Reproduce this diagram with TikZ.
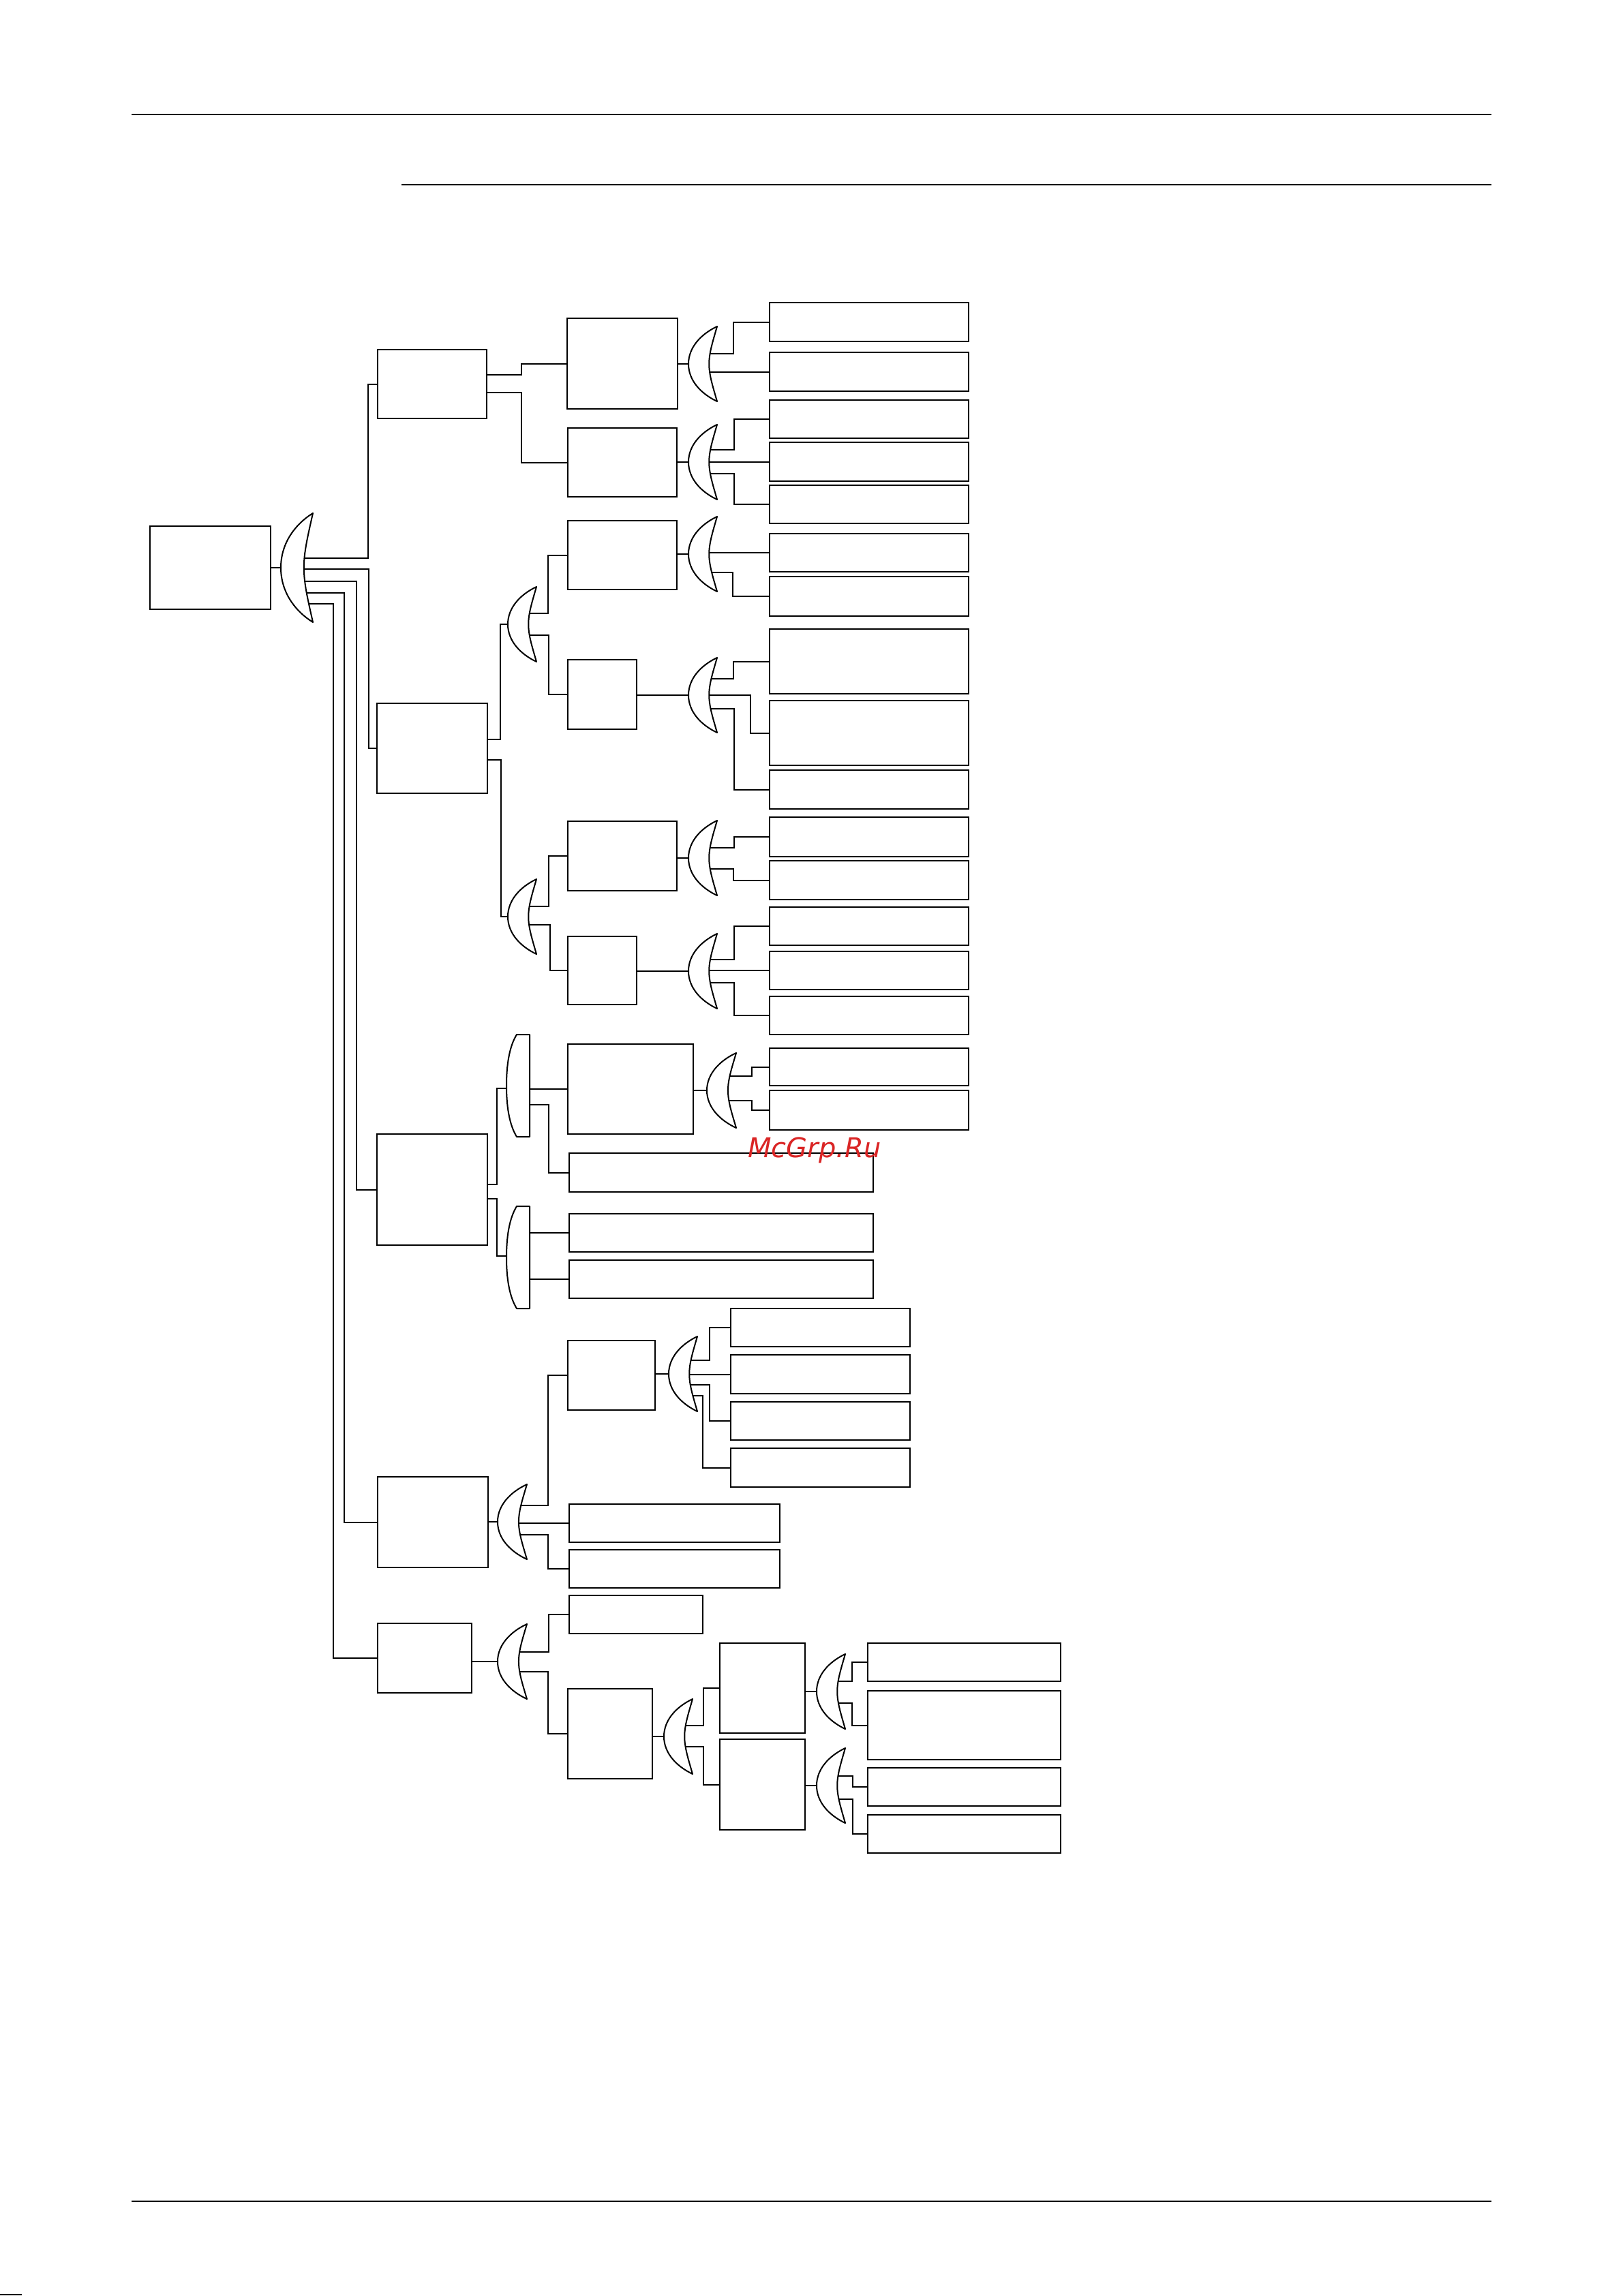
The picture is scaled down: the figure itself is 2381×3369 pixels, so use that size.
\documentclass[tikz,border=0pt]{standalone}
\usepackage{fontspec}
\newfontfamily\wmfont{DejaVu Sans}
\usetikzlibrary{calc}
\definecolor{wmred}{RGB}{218,37,37}
\tikzset{
  bx/.style={draw, line width=2.4pt, inner sep=0pt, anchor=north west, fill=white},
  cn/.style={line width=2.2pt},
  gt/.style={draw, fill=white, line width=2pt, line join=round},
  pl/.style={line width=2pt}
}
\newcommand\mkbox[5]{\node[bx, minimum width={(#4-#2)*1pt}, minimum height={(#5-#3)*1pt}] (#1) at (#2,#3) {};}
% crescent gate: left x, centre y, half height, width
\newcommand\crg[4]{%
\draw[gt] ({#1+#4},{#2-#3}) .. controls ({#1+0.45*#4},{#2-0.8*#3}) and ({#1},{#2-0.45*#3}) .. ({#1},{#2})
 .. controls ({#1},{#2+0.45*#3}) and ({#1+0.45*#4},{#2+0.8*#3}) .. ({#1+#4},{#2+#3})
 .. controls ({#1+0.85*#4},{#2+0.6*#3}) and ({#1+0.72*#4},{#2+0.3*#3}) .. ({#1+0.72*#4},{#2})
 .. controls ({#1+0.72*#4},{#2-0.3*#3}) and ({#1+0.85*#4},{#2-0.6*#3}) .. cycle;}
% half-round gate: left x, top y, bottom y, right x
\newcommand\dg[4]{%
\draw[gt] ({#4},{#2}) -- ({#1+15},{#2}) .. controls ({#1+4},{#2+0.12*(#3-#2)}) and ({#1},{#2+0.3*(#3-#2)}) .. ({#1},{(#2+#3)/2})
 .. controls ({#1},{#2+0.7*(#3-#2)}) and ({#1+4},{#2+0.88*(#3-#2)}) .. ({#1+15},{#3}) -- ({#4},{#3}) -- cycle;}
\begin{document}
\begin{tikzpicture}[x=1pt,y=-1pt]
\fill[white] (0,0) rectangle (2381,3369);
\useasboundingbox (0,0) rectangle (2381,3369);
% page rules
\draw[pl] (193,168) -- (2188,168);
\draw[pl] (589,271) -- (2188,271);
\draw[pl] (193,3230) -- (2188,3230);
\draw[line width=2pt] (0,3367) -- (32,3367);

% ---------- boxes ----------
\mkbox{root}{219}{771}{396}{893}
\mkbox{A}{553}{512}{713}{613}
\mkbox{B}{552}{1031}{714}{1163}
\mkbox{C}{552}{1663}{714}{1826}
\mkbox{D}{553}{2166}{715}{2299}
\mkbox{E}{553}{2381}{691}{2483}
\mkbox{A1}{831}{466}{993}{599}
\mkbox{A2}{832}{627}{992}{728}
\mkbox{B1a}{832}{763}{992}{864}
\mkbox{B1b}{832}{967}{933}{1069}
\mkbox{B2a}{832}{1204}{992}{1306}
\mkbox{B2b}{832}{1373}{933}{1473}
\mkbox{C1a}{832}{1531}{1016}{1663}
\mkbox{C1b}{834}{1691}{1280}{1748}
\mkbox{C2a}{834}{1780}{1280}{1836}
\mkbox{C2b}{834}{1848}{1280}{1904}
\mkbox{D1}{832}{1966}{960}{2068}
\mkbox{D2}{834}{2206}{1143}{2262}
\mkbox{D3}{834}{2273}{1143}{2329}
\mkbox{E1}{834}{2340}{1030}{2396}
\mkbox{E2}{832}{2477}{956}{2609}
\mkbox{E2a}{1055}{2410}{1180}{2542}
\mkbox{E2b}{1055}{2551}{1180}{2684}
% leaves
\mkbox{a11}{1128}{443}{1420}{500}
\mkbox{a12}{1128}{516}{1420}{573}
\mkbox{a21}{1128}{586}{1420}{642}
\mkbox{a22}{1128}{648}{1420}{705}
\mkbox{a23}{1128}{711}{1420}{767}
\mkbox{b1a1}{1128}{782}{1420}{838}
\mkbox{b1a2}{1128}{845}{1420}{903}
\mkbox{b1b1}{1128}{922}{1420}{1017}
\mkbox{b1b2}{1128}{1027}{1420}{1122}
\mkbox{b1b3}{1128}{1129}{1420}{1186}
\mkbox{b2a1}{1128}{1198}{1420}{1256}
\mkbox{b2a2}{1128}{1262}{1420}{1319}
\mkbox{b2b1}{1128}{1330}{1420}{1386}
\mkbox{b2b2}{1128}{1395}{1420}{1451}
\mkbox{b2b3}{1128}{1461}{1420}{1517}
\mkbox{c1a1}{1128}{1537}{1420}{1592}
\mkbox{c1a2}{1128}{1599}{1420}{1657}
\mkbox{d11}{1071}{1919}{1334}{1975}
\mkbox{d12}{1071}{1987}{1334}{2044}
\mkbox{d13}{1071}{2056}{1334}{2112}
\mkbox{d14}{1071}{2124}{1334}{2181}
\mkbox{e1}{1272}{2410}{1555}{2466}
\mkbox{e2}{1272}{2480}{1555}{2581}
\mkbox{e3}{1272}{2593}{1555}{2649}
\mkbox{e4}{1272}{2662}{1555}{2718}

% ---------- gate reference points (left-most point) ----------
\coordinate (G0) at (412,833);
\coordinate (GA1) at (1010,534);
\coordinate (GA2) at (1010,678);
\coordinate (GB1) at (745,916);
\coordinate (GB2) at (745,1345);
\coordinate (GB1a) at (1010,813);
\coordinate (GB1b) at (1010,1020);
\coordinate (GB2a) at (1010,1259);
\coordinate (GB2b) at (1010,1425);
\coordinate (GC1) at (743,1597);
\coordinate (GC2) at (743,1843);
\coordinate (GC1a) at (1037,1600);
\coordinate (GD) at (730,2233);
\coordinate (GD1) at (981,2016);
\coordinate (GE) at (730,2438);
\coordinate (GE2) at (974,2548);
\coordinate (GE2a) at (1198,2482);
\coordinate (GE2b) at (1198,2620);

% ---------- connectors ----------
\draw[cn] (root.east |- G0) -- ($(G0)+(8,0)$);
\draw[cn] (G0) ++(30,-14) -| (A.west -| 540,0) -- (A.west);
\draw[cn] (G0) ++(30,2) -| (B.west -| 541,0) -- (B.west);
\draw[cn] (G0) ++(30,20) -| (C.west -| 523,0) -- (C.west);
\draw[cn] (G0) ++(30,37) -| (D.west -| 505,0) -- (D.west);
\draw[cn] (G0) ++(30,53) -| (E.west -| 489,0) -- (E.west);
% A
\draw[cn] (A.east |- 0,550) -| (A1.west -| 765,0) -- (A1.west);
\draw[cn] (A.east |- 0,576) -| (A2.west -| 765,0) -- (A2.west);
\draw[cn] (A1.east |- GA1) -- ($(GA1)+(8,0)$);
\draw[cn] (GA1) ++(26,-15) -| (a11.west -| 1076,0) -- (a11.west);
\draw[cn] (a12.west -| GA1) ++(26,0) -- (a12.west);
\draw[cn] (A2.east |- GA2) -- ($(GA2)+(8,0)$);
\draw[cn] (GA2) ++(26,-18) -| (a21.west -| 1077,0) -- (a21.west);
\draw[cn] (a22.west -| GA2) ++(26,0) -- (a22.west);
\draw[cn] (GA2) ++(26,17) -| (a23.west -| 1077,0) -- (a23.west);
% B
\draw[cn] (B.east |- 0,1085) -| (GB1 -| 734,0) -- ($(GB1)+(8,0)$);
\draw[cn] (B.east |- 0,1115) -| (GB2 -| 735,0) -- ($(GB2)+(8,0)$);
\draw[cn] (GB1) ++(26,-16) -| (B1a.west -| 804,0) -- (B1a.west);
\draw[cn] (GB1) ++(26,16) -| (B1b.west -| 805,0) -- (B1b.west);
\draw[cn] (GB2) ++(26,-15) -| (B2a.west -| 805,0) -- (B2a.west);
\draw[cn] (GB2) ++(26,12) -| (B2b.west -| 807,0) -- (B2b.west);
\draw[cn] (B1a.east |- GB1a) -- ($(GB1a)+(8,0)$);
\draw[cn] (b1a1.west -| GB1a) ++(26,0) -- (b1a1.west);
\draw[cn] (GB1a) ++(26,27) -| (b1a2.west -| 1075,0) -- (b1a2.west);
\draw[cn] (B1b.east |- GB1b) -- ($(GB1b)+(8,0)$);
\draw[cn] (GB1b) ++(26,-24) -| (b1b1.west -| 1076,0) -- (b1b1.west);
\draw[cn] (GB1b) ++(26,0) -| (b1b2.west -| 1101,0) -- (b1b2.west);
\draw[cn] (GB1b) ++(26,20) -| (b1b3.west -| 1077,0) -- (b1b3.west);
\draw[cn] (B2a.east |- GB2a) -- ($(GB2a)+(8,0)$);
\draw[cn] (GB2a) ++(26,-15) -| (b2a1.west -| 1077,0) -- (b2a1.west);
\draw[cn] (GB2a) ++(26,16) -| (b2a2.west -| 1076,0) -- (b2a2.west);
\draw[cn] (B2b.east |- GB2b) -- ($(GB2b)+(8,0)$);
\draw[cn] (GB2b) ++(26,-17) -| (b2b1.west -| 1077,0) -- (b2b1.west);
\draw[cn] (b2b2.west -| GB2b) ++(26,0) -- (b2b2.west);
\draw[cn] (GB2b) ++(26,17) -| (b2b3.west -| 1077,0) -- (b2b3.west);
% C
\draw[cn] (C.east |- 0,1738) -| (GC1 -| 729,0) -- ($(GC1)+(8,0)$);
\draw[cn] (C.east |- 0,1759) -| (GC2 -| 729,0) -- ($(GC2)+(8,0)$);
\draw[cn] (C1a.west -| 770,0) -- (C1a.west);
\draw[cn] (GC1) ++(27,24) -| (C1b.west -| 805,0) -- (C1b.west);
\draw[cn] (C2a.west -| 770,0) -- (C2a.west);
\draw[cn] (C2b.west -| 770,0) -- (C2b.west);
\draw[cn] (C1a.east |- GC1a) -- ($(GC1a)+(8,0)$);
\draw[cn] (GC1a) ++(27,-21) -| (c1a1.west -| 1103,0) -- (c1a1.west);
\draw[cn] (GC1a) ++(27,15) -| (c1a2.west -| 1103,0) -- (c1a2.west);
% D
\draw[cn] (D.east |- GD) -- ($(GD)+(8,0)$);
\draw[cn] (GD) ++(27,-24) -| (D1.west -| 804,0) -- (D1.west);
\draw[cn] (D2.west -| GD) ++(27,0) -- (D2.west);
\draw[cn] (GD) ++(27,19) -| (D3.west -| 804,0) -- (D3.west);
\draw[cn] (D1.east |- GD1) -- ($(GD1)+(8,0)$);
\draw[cn] (GD1) ++(26,-20) -| (d11.west -| 1041,0) -- (d11.west);
\draw[cn] (d12.west -| GD1) ++(26,0) -- (d12.west);
\draw[cn] (GD1) ++(26,16) -| (d13.west -| 1041,0) -- (d13.west);
\draw[cn] (GD1) ++(26,32) -| (d14.west -| 1031,0) -- (d14.west);
% E
\draw[cn] (E.east |- GE) -- ($(GE)+(8,0)$);
\draw[cn] (GE) ++(27,-14) -| (E1.west -| 805,0) -- (E1.west);
\draw[cn] (GE) ++(27,15) -| (E2.west -| 804,0) -- (E2.west);
\draw[cn] (E2.east |- GE2) -- ($(GE2)+(8,0)$);
\draw[cn] (GE2) ++(26,-16) -| (E2a.west -| 1032,0) -- (E2a.west);
\draw[cn] (GE2) ++(26,15) -| (E2b.west -| 1032,0) -- (E2b.west);
\draw[cn] (E2a.east |- GE2a) -- ($(GE2a)+(8,0)$);
\draw[cn] (GE2a) ++(26,-15) -| (e1.west -| 1250,0) -- (e1.west);
\draw[cn] (GE2a) ++(26,17) -| (e2.west -| 1250,0) -- (e2.west);
\draw[cn] (E2b.east |- GE2b) -- ($(GE2b)+(8,0)$);
\draw[cn] (GE2b) ++(26,-14) -| (e3.west -| 1251,0) -- (e3.west);
\draw[cn] (GE2b) ++(26,20) -| (e4.west -| 1251,0) -- (e4.west);

% ---------- gates ----------
\crg{412}{833}{80}{47}
\crg{1010}{534}{55}{42}
\crg{1010}{678}{55}{42}
\crg{745}{916}{55}{42}
\crg{745}{1345}{55}{42}
\crg{1010}{813}{55}{42}
\crg{1010}{1020}{55}{42}
\crg{1010}{1259}{55}{42}
\crg{1010}{1425}{55}{42}
\crg{1037}{1600}{55}{43}
\crg{730}{2233}{55}{43}
\crg{981}{2016}{55}{42}
\crg{730}{2438}{55}{43}
\crg{974}{2548}{55}{42}
\crg{1198}{2482}{55}{42}
\crg{1198}{2620}{55}{42}
\dg{743}{1518}{1668}{777}
\dg{743}{1770}{1920}{777}

% watermark
\node[anchor=base, inner sep=0pt, text=wmred, font={\wmfont\itshape\fontsize{40}{48}\selectfont}] (wm) at (1195,1698) {McGrp.Ru};
\end{tikzpicture}
\end{document}
